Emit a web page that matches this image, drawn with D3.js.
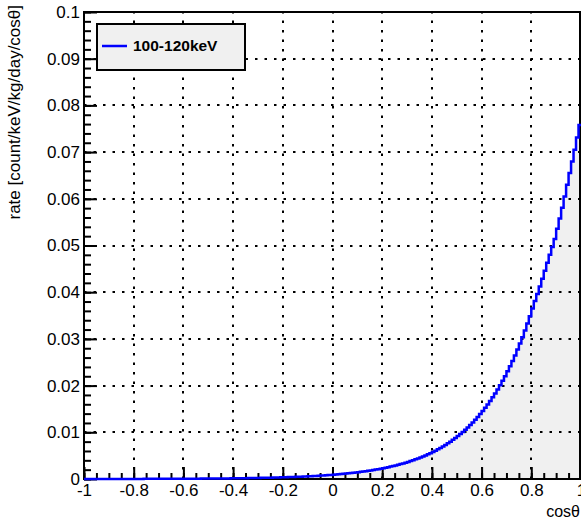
<!DOCTYPE html>
<html>
<head>
<meta charset="utf-8">
<script src="https://cdn.jsdelivr.net/npm/d3@7/dist/d3.min.js"></script>
<style>
  body { margin: 0; background: #fff; }
  text { font-family: "Liberation Sans", Arial, Helvetica, sans-serif; }
</style>
</head>
<body>
<div id="chart"></div>
<script>
(function () {
    // histogram: 200 bins over cos(theta) in [-1, 1]
    var binStart = -1;
    var binWidth = 0.01;

    var rateNeg = [
        9.3e-6, 9.7e-6, 1.02e-5, 1.06e-5, 1.11e-5, 1.17e-5, 1.22e-5, 1.28e-5, 1.34e-5, 1.40e-5,
        1.47e-5, 1.54e-5, 1.61e-5, 1.68e-5, 1.76e-5, 1.85e-5, 1.93e-5, 2.02e-5, 2.12e-5, 2.22e-5,
        2.32e-5, 2.43e-5, 2.55e-5, 2.67e-5, 2.79e-5, 2.92e-5, 3.06e-5, 3.21e-5, 3.36e-5, 3.52e-5,
        3.68e-5, 3.85e-5, 4.04e-5, 4.23e-5, 4.42e-5, 4.63e-5, 4.85e-5, 5.08e-5, 5.32e-5, 5.57e-5,
        5.83e-5, 6.11e-5, 6.39e-5, 6.69e-5, 7.01e-5, 7.34e-5, 7.68e-5, 8.05e-5, 8.42e-5, 8.82e-5,
        9.24e-5, 9.67e-5, 1.013e-4, 1.060e-4, 1.110e-4, 1.163e-4, 1.217e-4, 1.275e-4, 1.335e-4, 1.397e-4,
        1.463e-4, 1.532e-4, 1.604e-4, 1.680e-4, 1.759e-4, 1.842e-4, 1.928e-4, 2.019e-4, 2.114e-4, 2.214e-4,
        2.318e-4, 2.427e-4, 2.541e-4, 2.661e-4, 2.786e-4, 2.917e-4, 3.055e-4, 3.198e-4, 3.349e-4, 3.507e-4,
        3.672e-4, 3.844e-4, 4.025e-4, 4.215e-4, 4.413e-4, 4.621e-4, 4.839e-4, 5.066e-4, 5.305e-4, 5.555e-4,
        5.816e-4, 6.090e-4, 6.376e-4, 6.677e-4, 6.991e-4, 7.320e-4, 7.665e-4, 8.025e-4, 8.403e-4, 8.799e-4
    ];

    var ratePos = [
        0.000921, 0.000964, 0.001010, 0.001057, 0.001107, 0.001159, 0.001214, 0.001271, 0.001331, 0.001393,
        0.001459, 0.001528, 0.001600, 0.001675, 0.001754, 0.001836, 0.001923, 0.002013, 0.002108, 0.002207,
        0.002311, 0.002420, 0.002534, 0.002653, 0.002778, 0.002909, 0.003046, 0.003189, 0.003339, 0.003496,
        0.003661, 0.003833, 0.004014, 0.004203, 0.004401, 0.004608, 0.004825, 0.005052, 0.005290, 0.005539,
        0.005799, 0.006072, 0.006358, 0.006657, 0.006970, 0.007299, 0.007642, 0.008002, 0.008379, 0.008773,
        0.009186, 0.009618, 0.010071, 0.010545, 0.011042, 0.011562, 0.012106, 0.012676, 0.013272, 0.013897,
        0.014551, 0.015236, 0.015953, 0.016704, 0.017491, 0.018314, 0.019176, 0.020079, 0.021024, 0.022013,
        0.02305, 0.02413, 0.02527, 0.02646, 0.02771, 0.02901, 0.03038, 0.03181, 0.03330, 0.03487,
        0.0365, 0.0381, 0.0396, 0.0412, 0.0429, 0.0446, 0.0463, 0.0480, 0.0497, 0.0514,
        0.0536, 0.0558, 0.0581, 0.0605, 0.0630, 0.0655, 0.0680, 0.0705, 0.0731, 0.0758
    ];

    var xTicks = [-1, -0.8, -0.6, -0.4, -0.2, 0, 0.2, 0.4, 0.6, 0.8, 1];
    var xTickLabels = ['-1', '-0.8', '-0.6', '-0.4', '-0.2', '0', '0.2', '0.4', '0.6', '0.8', '1'];
    var yTicks = [0, 0.01, 0.02, 0.03, 0.04, 0.05, 0.06, 0.07, 0.08, 0.09, 0.1];
    var yTickLabels = ['0', '0.01', '0.02', '0.03', '0.04', '0.05', '0.06', '0.07', '0.08', '0.09', '0.1'];
    var seriesName = '100-120keV';

    var width = 581;
    var height = 520;
    var left = 84, right = 581, top = 12, bottom = 479;

    var x = d3.scaleLinear().domain([-1, 1]).range([left, right]);
    var y = d3.scaleLinear().domain([0, 0.1]).range([bottom, top]);

    var rates = rateNeg.concat(ratePos);
    var steps = [];
    rates.forEach(function (v, i) {
        var x0 = binStart + i * binWidth;
        steps.push({ x: x0, v: v });
        steps.push({ x: x0 + binWidth, v: v });
    });

    var svg = d3.select('#chart')
        .append('svg')
        .attr('width', width)
        .attr('height', height);

    // grey fill under the histogram
    var area = d3.area()
        .x(function (d) { return x(d.x); })
        .y0(y(0))
        .y1(function (d) { return y(d.v); });

    svg.append('path')
        .datum(steps)
        .attr('d', area)
        .attr('fill', '#f0f0f0');

    // dotted grid
    var grid = svg.append('g')
        .attr('stroke', '#000')
        .attr('stroke-width', 2)
        .attr('stroke-dasharray', '2.5,7');

    grid.selectAll('.gx')
        .data(xTicks.slice(1, -1))
        .enter()
        .append('line')
        .attr('x1', function (d) { return Math.round(x(d)); })
        .attr('x2', function (d) { return Math.round(x(d)); })
        .attr('y1', y(0))
        .attr('y2', y(0.1));

    grid.selectAll('.gy')
        .data(yTicks.slice(1, -1))
        .enter()
        .append('line')
        .attr('x1', x(-1))
        .attr('x2', x(1))
        .attr('y1', function (d) { return Math.round(y(d)); })
        .attr('y2', function (d) { return Math.round(y(d)); });

    // axes: ticks pointing into the frame
    var yMinor = d3.range(0, 0.1001, 0.002);
    var xMinor = d3.range(-1, 1.0001, 0.05);

    var yAxisMinor = svg.append('g')
        .attr('transform', 'translate(' + left + ',0)')
        .call(d3.axisLeft(y).tickValues(yMinor).tickSize(-7).tickFormat(''));
    var yAxis = svg.append('g')
        .attr('transform', 'translate(' + left + ',0)')
        .call(d3.axisLeft(y).tickValues(yTicks).tickSize(-13).tickPadding(4)
            .tickFormat(function (d, i) { return yTickLabels[i]; }));

    var xAxisMinor = svg.append('g')
        .attr('transform', 'translate(0,' + bottom + ')')
        .call(d3.axisBottom(x).tickValues(xMinor).tickSize(-6).tickFormat(''));
    var xAxis = svg.append('g')
        .attr('transform', 'translate(0,' + bottom + ')')
        .call(d3.axisBottom(x).tickValues(xTicks).tickSize(-12).tickPadding(5)
            .tickFormat(function (d, i) { return xTickLabels[i]; }));

    [yAxisMinor, yAxis, xAxisMinor, xAxis].forEach(function (g) {
        g.select('.domain').remove();
        g.selectAll('line').attr('stroke', '#000').attr('stroke-width', 2);
        g.selectAll('text')
            .attr('fill', '#000')
            .style('font-size', '17px');
    });

    // frame
    svg.append('rect')
        .attr('x', left)
        .attr('y', top)
        .attr('width', right - left - 1)
        .attr('height', bottom - top)
        .attr('fill', 'none')
        .attr('stroke', '#000')
        .attr('stroke-width', 2);

    // histogram outline
    var line = d3.line()
        .x(function (d) { return x(d.x); })
        .y(function (d) { return y(d.v); });

    svg.append('path')
        .datum(steps)
        .attr('d', line)
        .attr('fill', 'none')
        .attr('stroke', '#0000ff')
        .attr('stroke-width', 2.5);

    // axis titles
    svg.append('text')
        .attr('x', 580)
        .attr('y', 517)
        .attr('text-anchor', 'end')
        .style('font-size', '16px')
        .text('cos\u03b8');

    svg.append('text')
        .attr('transform', 'translate(20,5) rotate(-90)')
        .attr('text-anchor', 'end')
        .style('font-size', '17px')
        .text('rate [count/keV/kg/day/cos\u03b8]');

    // legend
    var legend = svg.append('g')
        .attr('transform', 'translate(97,24)');

    legend.append('rect')
        .attr('width', 148)
        .attr('height', 46)
        .attr('fill', '#f0f0f0')
        .attr('stroke', '#000')
        .attr('stroke-width', 2);

    legend.append('line')
        .attr('x1', 5)
        .attr('x2', 30)
        .attr('y1', 22)
        .attr('y2', 22)
        .attr('stroke', '#0000ff')
        .attr('stroke-width', 2.5);

    legend.append('text')
        .attr('x', 36)
        .attr('y', 27)
        .style('font-size', '15.5px')
        .style('font-weight', 'bold')
        .text(seriesName);
})();
</script>
</body>
</html>
